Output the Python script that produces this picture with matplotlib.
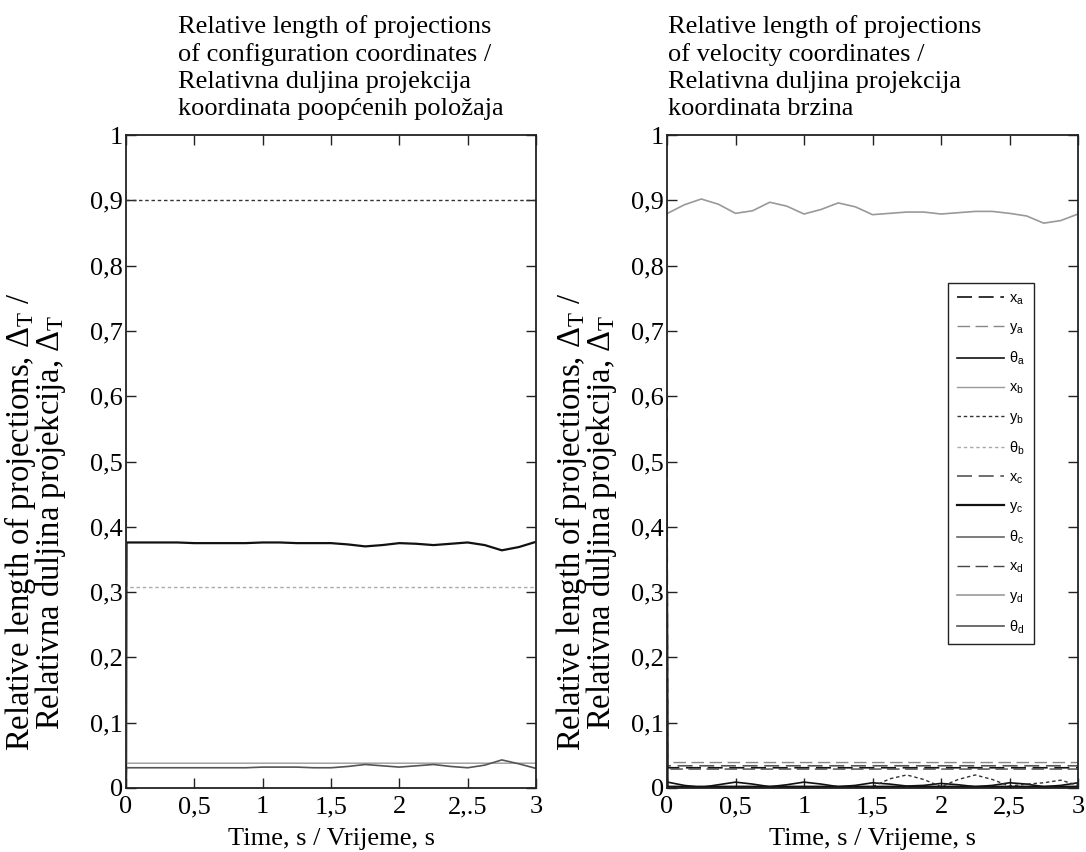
import matplotlib
matplotlib.use("Agg")
import matplotlib.pyplot as plt

# ---------------- data ----------------
time = [0.0, 0.004, 0.125, 0.25, 0.375, 0.5, 0.625, 0.75, 0.875, 1.0, 1.125, 1.25, 1.375,
        1.5, 1.625, 1.75, 1.875, 2.0, 2.125, 2.25, 2.375, 2.5, 2.625, 2.75, 2.875, 3.0]

# configuration coordinates (left panel)
cfg_yb = [0.90, 0.90, 0.90, 0.90, 0.90, 0.90, 0.90, 0.90, 0.90, 0.90, 0.90, 0.90, 0.90,
          0.90, 0.90, 0.90, 0.90, 0.90, 0.90, 0.90, 0.90, 0.90, 0.90, 0.90, 0.90, 0.90]
cfg_yc = [0.00, 0.376, 0.376, 0.376, 0.376, 0.375, 0.375, 0.375, 0.375, 0.376, 0.376, 0.375, 0.375,
          0.375, 0.373, 0.370, 0.372, 0.375, 0.374, 0.372, 0.374, 0.376, 0.372, 0.364, 0.369, 0.377]
cfg_thb = [0.15, 0.307, 0.307, 0.307, 0.307, 0.307, 0.307, 0.307, 0.307, 0.307, 0.307, 0.307, 0.307,
           0.307, 0.307, 0.307, 0.307, 0.307, 0.307, 0.307, 0.307, 0.307, 0.307, 0.307, 0.307, 0.307]
cfg_xb = [0.50, 0.038, 0.038, 0.038, 0.038, 0.038, 0.038, 0.038, 0.038, 0.038, 0.038, 0.038, 0.038,
          0.038, 0.038, 0.038, 0.038, 0.038, 0.038, 0.038, 0.038, 0.038, 0.038, 0.038, 0.038, 0.038]
cfg_thd = [0.00, 0.031, 0.031, 0.031, 0.031, 0.031, 0.031, 0.031, 0.031, 0.032, 0.032, 0.032, 0.031,
           0.031, 0.033, 0.036, 0.034, 0.032, 0.034, 0.036, 0.033, 0.031, 0.035, 0.043, 0.037, 0.030]

# velocity coordinates (right panel)
vel_xa = [0.60, 0.031, 0.031, 0.031, 0.031, 0.031, 0.031, 0.031, 0.031, 0.031, 0.031, 0.031, 0.031,
          0.031, 0.031, 0.031, 0.031, 0.031, 0.031, 0.031, 0.031, 0.031, 0.031, 0.031, 0.031, 0.031]
vel_ya = [0.50, 0.039, 0.039, 0.039, 0.039, 0.039, 0.039, 0.039, 0.039, 0.039, 0.039, 0.039, 0.039,
          0.039, 0.039, 0.039, 0.039, 0.039, 0.039, 0.039, 0.039, 0.039, 0.039, 0.039, 0.039, 0.039]
vel_tha = [0.010, 0.009, 0.004, 0.001, 0.005, 0.009, 0.006, 0.002, 0.005, 0.009, 0.006, 0.002, 0.004,
           0.008, 0.006, 0.003, 0.004, 0.007, 0.005, 0.002, 0.004, 0.008, 0.006, 0.002, 0.004, 0.008]
vel_yb = [0.000, 0.001, 0.001, 0.001, 0.001, 0.001, 0.001, 0.001, 0.001, 0.001, 0.001, 0.001, 0.001,
          0.002, 0.014, 0.020, 0.013, 0.002, 0.013, 0.020, 0.013, 0.003, 0.006, 0.008, 0.012, 0.004]
vel_xc = [0.45, 0.034, 0.034, 0.034, 0.034, 0.034, 0.034, 0.034, 0.034, 0.034, 0.034, 0.034, 0.034,
          0.034, 0.034, 0.034, 0.034, 0.034, 0.034, 0.034, 0.034, 0.034, 0.034, 0.034, 0.034, 0.034]
vel_xd = [0.55, 0.029, 0.029, 0.029, 0.029, 0.029, 0.029, 0.029, 0.029, 0.029, 0.029, 0.029, 0.029,
          0.029, 0.029, 0.029, 0.029, 0.029, 0.029, 0.029, 0.029, 0.029, 0.029, 0.029, 0.029, 0.029]
vel_yd = [0.879, 0.880, 0.893, 0.902, 0.894, 0.880, 0.884, 0.897, 0.891, 0.879, 0.886, 0.896, 0.890,
          0.878, 0.880, 0.882, 0.882, 0.879, 0.881, 0.883, 0.883, 0.880, 0.876, 0.865, 0.869, 0.879]
vel_yc = [0.30, 0.002, 0.002, 0.002, 0.002, 0.002, 0.002, 0.002, 0.002, 0.002, 0.002, 0.002, 0.002,
          0.002, 0.002, 0.002, 0.002, 0.002, 0.002, 0.002, 0.002, 0.002, 0.002, 0.002, 0.002, 0.002]

legend_labels = ["$\\mathregular{x_a}$", "$\\mathregular{y_a}$", "$\\mathregular{θ_a}$",
                 "$\\mathregular{x_b}$", "$\\mathregular{y_b}$", "$\\mathregular{θ_b}$",
                 "$\\mathregular{x_c}$", "$\\mathregular{y_c}$", "$\\mathregular{θ_c}$",
                 "$\\mathregular{x_d}$", "$\\mathregular{y_d}$", "$\\mathregular{θ_d}$"]

x_ticks = [0, 0.5, 1, 1.5, 2, 2.5, 3]
x_labels_left = ["0", "0,5", "1", "1,5", "2", "2,.5", "3"]
x_labels_right = ["0", "0,5", "1", "1,5", "2", "2,5", "3"]
y_ticks = [0, 0.1, 0.2, 0.3, 0.4, 0.5, 0.6, 0.7, 0.8, 0.9, 1.0]
y_labels = ["0", "0,1", "0,2", "0,3", "0,4", "0,5", "0,6", "0,7", "0,8", "0,9", "1"]

title_left = ("Relative length of projections\nof configuration coordinates /\n"
              "Relativna duljina projekcija\nkoordinata poopćenih položaja")
title_right = ("Relative length of projections\nof velocity coordinates /\n"
               "Relativna duljina projekcija\nkoordinata brzina")
ylabel = ("Relative length of projections, $\\mathregular{Δ_T}$ /\n"
          "Relativna duljina projekcija, $\\mathregular{Δ_T}$")
xlabel = "Time, s / Vrijeme, s"

# ---------------- styles ----------------
styles = {
    "xa": dict(color="#111111", ls=(0, (9, 4)), lw=1.2),
    "ya": dict(color="#888888", ls=(0, (9, 4)), lw=1.0),
    "tha": dict(color="#111111", ls="-", lw=1.2),
    "xb": dict(color="#999999", ls="-", lw=1.0),
    "yb": dict(color="#333333", ls=(0, (2.5, 2)), lw=1.0),
    "thb": dict(color="#aaaaaa", ls=(0, (2.5, 2)), lw=1.0),
    "xc": dict(color="#555555", ls=(0, (9, 4)), lw=1.2),
    "yc": dict(color="#111111", ls="-", lw=1.6),
    "thc": dict(color="#666666", ls="-", lw=1.2),
    "xd": dict(color="#444444", ls=(0, (9, 4)), lw=1.0),
    "yd": dict(color="#999999", ls="-", lw=1.2),
    "thd": dict(color="#555555", ls="-", lw=1.2),
}

SERIF = "Liberation Serif"
plt.rcParams["font.family"] = [SERIF, "DejaVu Serif"]
plt.rcParams["mathtext.fontset"] = "stix"
plt.rcParams["lines.solid_joinstyle"] = "round"

W, H = 1086, 852
fig = plt.figure(figsize=(W / 100, H / 100), dpi=100)
ax1 = fig.add_axes([126 / W, 1 - 788 / H, 410 / W, 653 / H])
ax2 = fig.add_axes([667 / W, 1 - 788 / H, 411 / W, 653 / H])

FS = 19

# left panel
ax1.plot(time, cfg_yb, **styles["yb"])
ax1.plot(time, cfg_yc, **styles["yc"])
ax1.plot(time, cfg_thb, **styles["thb"])
ax1.plot(time, cfg_xb, **styles["xb"])
ax1.plot(time, cfg_thd, **styles["thd"])

# right panel
ax2.plot(time, vel_xa, label=legend_labels[0], **styles["xa"])
ax2.plot(time, vel_ya, label=legend_labels[1], **styles["ya"])
ax2.plot(time, vel_tha, label=legend_labels[2], **styles["tha"])
ax2.plot([], [], label=legend_labels[3], **styles["xb"])
ax2.plot(time, vel_yb, label=legend_labels[4], **styles["yb"])
ax2.plot([], [], label=legend_labels[5], **styles["thb"])
ax2.plot(time, vel_xc, label=legend_labels[6], **styles["xc"])
ax2.plot(time, vel_yc, label=legend_labels[7], **styles["yc"])
ax2.plot([], [], label=legend_labels[8], **styles["thc"])
ax2.plot(time, vel_xd, label=legend_labels[9], **styles["xd"])
ax2.plot(time, vel_yd, label=legend_labels[10], **styles["yd"])
ax2.plot([], [], label=legend_labels[11], **styles["thd"])

for ax, xl in ((ax1, x_labels_left), (ax2, x_labels_right)):
    ax.set_xlim(0, 3)
    ax.set_ylim(0, 1)
    ax.set_xticks(x_ticks)
    ax.set_xticklabels(xl)
    ax.set_yticks(y_ticks)
    ax.set_yticklabels(y_labels)
    ax.tick_params(direction="in", top=True, right=True, length=7, width=1,
                   labelsize=FS, color="#222222")
    ax.tick_params(axis="y", pad=2)
    ax.tick_params(axis="x", pad=6)
    for s in ax.spines.values():
        s.set_linewidth(1.3)
        s.set_color("#222222")
    ax.set_xlabel(xlabel, fontsize=FS, labelpad=7)

fig.text(178 / W, 1 - 15 / H, title_left, ha="left", va="top", fontsize=19, linespacing=1.28)
fig.text(668 / W, 1 - 15 / H, title_right, ha="left", va="top", fontsize=19, linespacing=1.28)

ymid = 1 - 522 / H
fig.text(35 / W, ymid, ylabel, rotation=90, ha="center", va="center", fontsize=23.5,
         multialignment="center", linespacing=0.82)
fig.text(586 / W, ymid, ylabel, rotation=90, ha="center", va="center", fontsize=23.5,
         multialignment="center", linespacing=0.82)

leg = ax2.legend(loc="upper left", bbox_to_anchor=(0.684, 0.774), frameon=True,
                 fancybox=False, edgecolor="#222222", framealpha=1,
                 prop={"family": "Liberation Sans", "size": 10.5},
                 handlelength=3.2, labelspacing=0.93, borderpad=0.6,
                 handletextpad=0.4, borderaxespad=0)
leg.get_frame().set_linewidth(1.0)

fig.savefig("out.png", dpi=100)
